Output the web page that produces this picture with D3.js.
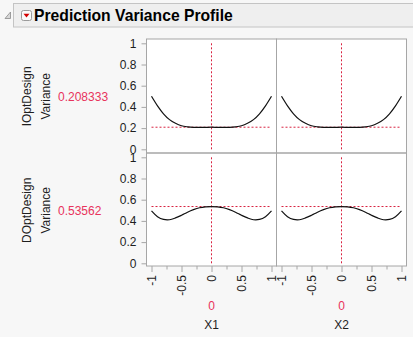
<!DOCTYPE html>
<html><head><meta charset="utf-8">
<script src="https://cdn.jsdelivr.net/npm/d3@7"></script>
<style>
html,body{margin:0;padding:0;background:#f7f7f7;}
svg{display:block;font-family:"Liberation Sans",Arial,sans-serif;}
</style></head>
<body>
<svg id="c" width="413" height="337"></svg>
<script>
// ---- data ----
const title = "Prediction Variance Profile";
const factors = ["X1", "X2"];
const factorSettings = [0, 0];
const responses = [["IOptDesign", "Variance"], ["DOptDesign", "Variance"]];
const responseValues = ["0.208333", "0.53562"];
const responseRefs = [0.208333, 0.53562];
const xGrid = [-1, -0.9, -0.8, -0.7, -0.6, -0.5, -0.4, -0.3, -0.2, -0.1, 0, 0.1, 0.2, 0.3, 0.4, 0.5, 0.6, 0.7, 0.8, 0.9, 1];
const iOptVariance = [0.50, 0.41, 0.335, 0.28, 0.245, 0.222, 0.212, 0.207, 0.206, 0.207, 0.2083, 0.207, 0.206, 0.207, 0.212, 0.222, 0.245, 0.28, 0.335, 0.41, 0.50];
const dOptVariance = [0.494, 0.44, 0.414, 0.411, 0.428, 0.453, 0.482, 0.506, 0.524, 0.533, 0.5356, 0.533, 0.524, 0.506, 0.482, 0.453, 0.428, 0.411, 0.414, 0.44, 0.494];
const curves = [iOptVariance, dOptVariance]; // same profile for X1 and X2
const yTicks = [0, 0.2, 0.4, 0.6, 0.8, 1];
const yTickLabels = ["0", "0.2", "0.4", "0.6", "0.8", "1"];
const xTicks = [-1, -0.5, 0, 0.5, 1];
const xTickLabels = ["-1", "-0.5", "0", "0.5", "1"];
const xMinorTicks = [-0.75, -0.25, 0.25, 0.75];

// ---- layout ----
const svg = d3.select("#c");
const red = "#e8335c";
const refRed = "#d8213f";
const frame = "#a6a6a6";
const textCol = "#1e1e1e";

// title bar
svg.append("rect").attr("x", 13.5).attr("y", 3.5).attr("width", 405).attr("height", 23.5)
  .attr("fill", "#efefef").attr("stroke", "#c4c4c4");
svg.append("path").attr("d", "M5,18.5 L10.5,18.5 L10.5,12 Z").attr("fill", "#d8d8d8").attr("stroke", "#8a8a8a").attr("stroke-width", 0.8);
svg.append("rect").attr("x", 21.5).attr("y", 10.5).attr("width", 10).attr("height", 10).attr("rx", 2)
  .attr("fill", "#fafafa").attr("stroke", "#9a9a9a");
svg.append("path").attr("d", "M23.5,13.8 L29.5,13.8 L26.5,17.6 Z").attr("fill", "#d40000");
svg.append("text").attr("x", 34).attr("y", 21).attr("font-size", 15.7).attr("font-weight", "bold")
  .attr("fill", "#000").text(title);

const colLeft = [146.5, 276.5], colW = 130;
const rowTop = [39, 153], rowH = [114, 113];

const xs = colLeft.map(l => d3.scaleLinear().domain([-1, 1]).range([l + 5, l + 125]));
const ys = rowTop.map(t => d3.scaleLinear().domain([0, 1]).range([t + 110.3, t + 4.3]));

// panels
rowTop.forEach((t, r) => {
  colLeft.forEach((l, c) => {
    svg.append("rect").attr("x", l).attr("y", t).attr("width", colW).attr("height", rowH[r])
      .attr("fill", "#fff");
  });
});

rowTop.forEach((t, r) => {
  const y = ys[r];
  colLeft.forEach((l, c) => {
    const x = xs[c];
    const g = svg.append("g");
    // reference lines
    g.append("line").attr("x1", x(factorSettings[c])).attr("x2", x(factorSettings[c]))
      .attr("y1", y(1)).attr("y2", y(0) + 2)
      .attr("stroke", refRed).attr("stroke-width", 1).attr("stroke-dasharray", "2,2");
    g.append("line").attr("x1", x(-1)).attr("x2", x(1))
      .attr("y1", y(responseRefs[r])).attr("y2", y(responseRefs[r]))
      .attr("stroke", refRed).attr("stroke-width", 1).attr("stroke-dasharray", "2,2");
    const line = d3.line().x((d, i) => x(xGrid[i])).y(d => y(d)).curve(d3.curveCatmullRom);
    g.append("path").attr("d", line(curves[r])).attr("fill", "none")
      .attr("stroke", "#111").attr("stroke-width", 1.2);
  });
  // y axis
  const ax = svg.append("g").attr("transform", `translate(${colLeft[0]},0)`)
    .call(d3.axisLeft(y).tickValues(yTicks).tickFormat((d, i) => yTickLabels[i]).tickSize(5).tickPadding(5));
  ax.select(".domain").remove();
  ax.selectAll(".tick line").attr("stroke", frame);
  ax.selectAll(".tick text").attr("font-size", 12).attr("fill", textCol)
    .attr("font-family", "Liberation Sans, Arial, sans-serif");
  // response labels
  const cy = (y(0) + y(1)) / 2;
  svg.append("text").attr("transform", `translate(30.6,${cy}) rotate(-90)`)
    .attr("text-anchor", "middle").attr("font-size", 12).attr("fill", textCol).text(responses[r][0]);
  svg.append("text").attr("transform", `translate(50.2,${cy}) rotate(-90)`)
    .attr("text-anchor", "middle").attr("font-size", 12).attr("fill", textCol).text(responses[r][1]);
  svg.append("text").attr("x", 58).attr("y", cy).attr("dy", "0.35em")
    .attr("font-size", 12).attr("fill", red).text(responseValues[r]);
});

// panel frames
rowTop.forEach((t, r) => {
  colLeft.forEach((l, c) => {
    svg.append("rect").attr("x", l).attr("y", t).attr("width", colW).attr("height", rowH[r])
      .attr("fill", "none").attr("stroke", frame).attr("stroke-width", 1);
  });
});

// x axes
const axisY = rowTop[1] + rowH[1];
colLeft.forEach((l, c) => {
  const x = xs[c];
  const minor = svg.append("g").attr("transform", `translate(0,${axisY})`)
    .call(d3.axisBottom(x).tickValues(xMinorTicks).tickFormat("").tickSize(3.5));
  minor.select(".domain").remove();
  minor.selectAll(".tick line").attr("stroke", frame);
  const ax = svg.append("g").attr("transform", `translate(0,${axisY})`)
    .call(d3.axisBottom(x).tickValues(xTicks).tickFormat((d, i) => xTickLabels[i]).tickSize(6));
  ax.select(".domain").remove();
  ax.selectAll(".tick line").attr("stroke", frame);
  ax.selectAll(".tick text").attr("font-size", 12).attr("fill", textCol)
    .attr("font-family", "Liberation Sans, Arial, sans-serif")
    .attr("transform", "translate(0,9) rotate(-90)")
    .attr("text-anchor", "end").attr("x", 0).attr("y", 0).attr("dy", "0.35em");
  const cx = x(0);
  svg.append("text").attr("x", x(factorSettings[c])).attr("y", 310).attr("text-anchor", "middle")
    .attr("font-size", 12).attr("fill", red).text(String(factorSettings[c]));
  svg.append("text").attr("x", cx).attr("y", 329).attr("text-anchor", "middle")
    .attr("font-size", 12).attr("fill", textCol).text(factors[c]);
});
</script>
</body></html>
